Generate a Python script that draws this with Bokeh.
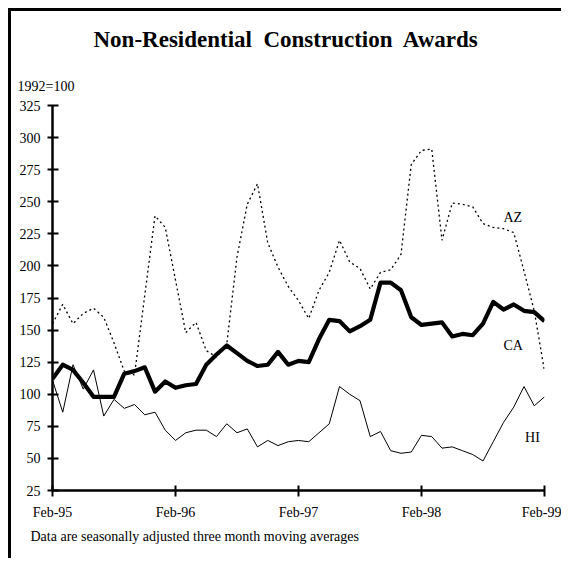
import pandas as pd
from bokeh.plotting import figure
from bokeh.models import Range1d, FixedTicker, Label, Title, ColumnDataSource
from bokeh.embed import file_html
from bokeh.resources import INLINE

# ---- data (1992=100), monthly Feb-95 .. Feb-99 ----
az = [155, 170, 155, 163, 167, 160, 140, 118, 115, 177, 239, 230, 189, 148, 156, 134, 129,
      139, 207, 248, 264, 218, 199, 184, 173, 159, 181, 195, 220, 203, 198, 182, 195, 197,
      209, 279, 290, 291, 220, 249, 248, 246, 233, 230, 229, 226, 196, 165, 118]
ca = [112, 123, 119, 109, 98, 98, 98, 116, 118, 121, 102, 110, 105, 107, 108, 123, 131,
      138, 132, 126, 122, 123, 133, 123, 126, 125, 143, 158, 157, 149, 153, 158, 187, 187,
      181, 160, 154, 155, 156, 145, 147, 146, 155, 172, 166, 170, 165, 164, 157]
hi = [111, 86, 123, 104, 119, 83, 96, 89, 92, 84, 86, 72, 64, 70, 72, 72, 67, 77, 70, 73,
      59, 64, 60, 63, 64, 63, 70, 77, 106, 100, 95, 67, 71, 56, 54, 55, 68, 67, 58, 59, 56,
      53, 48, 63, 78, 90, 106, 91, 98]
start_month = "1995-02"
y_ticks = [25, 50, 75, 100, 125, 150, 175, 200, 225, 250, 275, 300, 325]
title_text = "Non-Residential\u00a0 Construction\u00a0 Awards"
units_text = "1992=100"
note_text = "Data are seasonally adjusted three month moving averages"

months = pd.date_range(start_month, periods=len(ca), freq="MS")
month_labels = [m.strftime("%b-%y") for m in months]
idx = list(range(len(ca)))
x_ticks = [i for i, m in enumerate(months) if m.month == 2]

src = ColumnDataSource(dict(x=idx, az=az, ca=ca, hi=hi))

FONT = "Liberation Serif"

p = figure(width=553, height=550, output_backend="svg", toolbar_location=None,
           x_range=Range1d(0, len(ca) - 1), y_range=Range1d(25, 325),
           min_border_left=41, min_border_right=20, min_border_top=94, min_border_bottom=71,
           title=None)
p.styles = {"margin-left": "8px", "margin-top": "8px",
            "border-left": "3px solid black", "border-top": "3px solid black"}
p.outline_line_color = None
p.xgrid.visible = False
p.ygrid.visible = False
p.background_fill_color = "white"
p.border_fill_color = "white"

p.line("x", "az", source=src, line_color="black", line_width=1.3, line_dash="2 3")
p.line("x", "hi", source=src, line_color="black", line_width=1)
p.line("x", "ca", source=src, line_color="black", line_width=4.2, line_join="round")

for ax in (p.xaxis[0], p.yaxis[0]):
    ax.axis_line_width = 2.5
    ax.axis_line_color = "black"
    ax.major_tick_line_width = 2
    ax.major_tick_line_color = "black"
    ax.minor_tick_line_color = None
    ax.major_label_text_font = FONT
    ax.major_label_text_font_size = "14px"
    ax.major_label_text_color = "black"

p.yaxis.ticker = FixedTicker(ticks=y_ticks)
p.yaxis.major_tick_in = 6
p.yaxis.major_tick_out = 5
p.yaxis.major_label_standoff = 7

p.xaxis.ticker = FixedTicker(ticks=x_ticks)
p.xaxis.major_label_overrides = {i: month_labels[i] for i in x_ticks}
p.xaxis.major_tick_in = 5
p.xaxis.major_tick_out = 6
p.xaxis.major_label_standoff = 8

# texts outside the frame as titles
p.add_layout(Title(text=units_text, align="left", offset=-35, standoff=24,
                   text_font=FONT, text_font_size="14px", text_font_style="normal",
                   text_color="black"), "above")
p.add_layout(Title(text=title_text, align="left", offset=41, standoff=25,
                   text_font=FONT, text_font_size="23px", text_font_style="bold",
                   text_color="black"), "above")
p.add_layout(Title(text=note_text, align="left", offset=-22, standoff=8,
                   text_font=FONT, text_font_size="14px", text_font_style="normal",
                   text_color="black"), "below")

# series labels (data units)
for name, xi, yv in (("AZ", 44, 238), ("CA", 44, 138), ("HI", 46.1, 66.5)):
    p.add_layout(Label(x=xi, y=yv, text=name, text_font=FONT, text_font_size="14px",
                       text_align="left", text_baseline="alphabetic", text_color="black"))

open("out.html", "w").write(file_html(p, INLINE))
